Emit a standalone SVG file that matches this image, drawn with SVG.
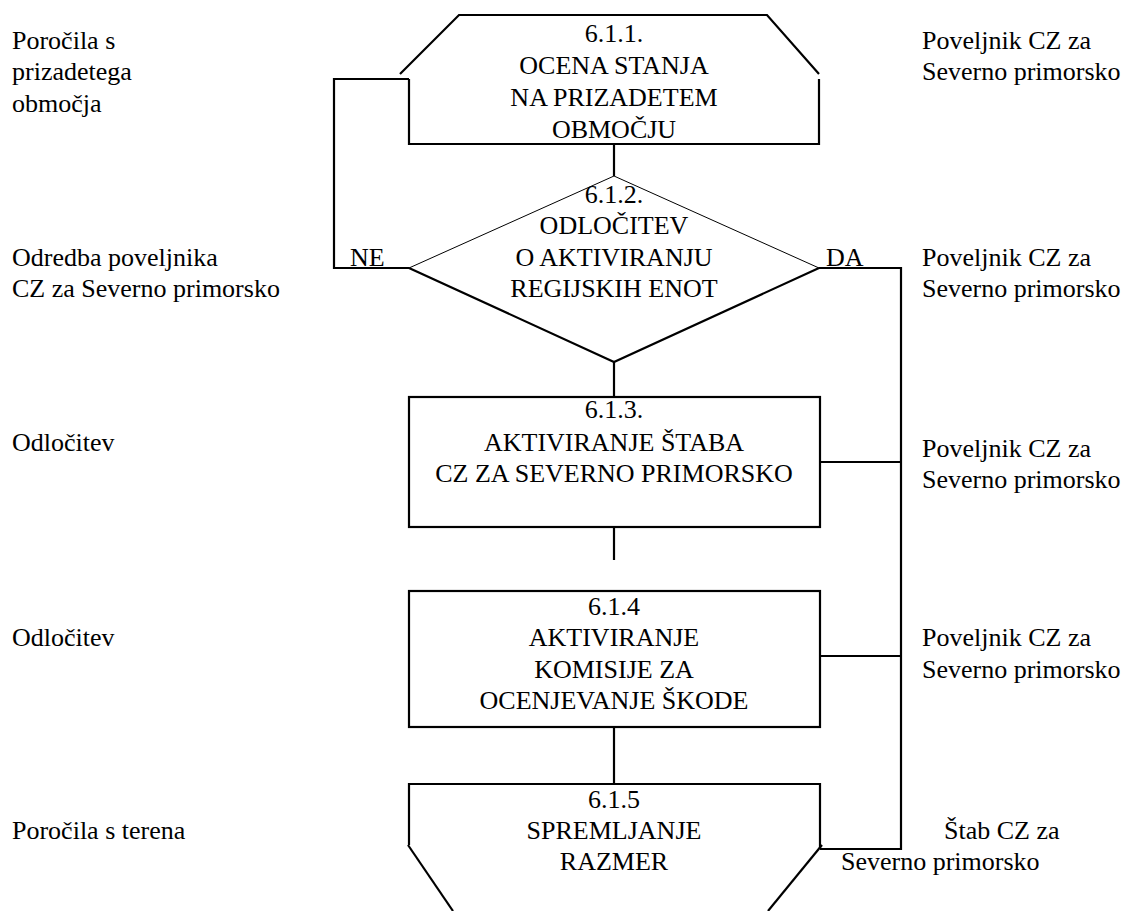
<svg xmlns="http://www.w3.org/2000/svg" width="1129" height="911" viewBox="0 0 1129 911" font-family="Liberation Serif, Times New Roman, serif" font-size="26">
<style>
.c{text-anchor:middle}
.ln{fill:none;stroke:#000;stroke-width:2.2}
.thin{fill:none;stroke:#000;stroke-width:1}
</style>
<rect width="1129" height="911" fill="#fff"/>
<g id="connectors">
<polyline class="ln" points="409,79 334,79 334,268 409,268"/>
<polyline class="ln" points="819,268 901,268 901,849 820,849"/>
<line class="ln" x1="820" y1="462" x2="901" y2="462"/>
<line class="ln" x1="820" y1="656" x2="901" y2="656"/>
<line class="ln" x1="614" y1="144" x2="614" y2="176"/>
<line class="ln" x1="614" y1="362" x2="614" y2="397"/>
<line class="ln" x1="614" y1="527" x2="614" y2="560"/>
<line class="ln" x1="614" y1="727" x2="614" y2="784"/>
<text x="350" y="266">NE</text>
<text x="826" y="266">DA</text>
</g>
<g id="n611">
<polyline class="ln" points="400,74 459,15 767,15 819,74"/>
<polyline class="ln" points="409,79 409,144 819,144 819,79"/>
<text class="c" x="614" y="42">6.1.1.</text>
<text class="c" x="614" y="74">OCENA STANJA</text>
<text class="c" x="614" y="106">NA PRIZADETEM</text>
<text class="c" x="614" y="138">OBMOČJU</text>
</g>
<g id="n612">
<polyline class="thin" points="409,268 614,176 819,268"/>
<polyline class="ln" points="409,268 614,362 819,268"/>
<text class="c" x="614" y="203">6.1.2.</text>
<text class="c" x="614" y="234">ODLOČITEV</text>
<text class="c" x="614" y="266">O AKTIVIRANJU</text>
<text class="c" x="614" y="297">REGIJSKIH ENOT</text>
</g>
<g id="n613">
<rect class="ln" x="409" y="397" width="411" height="130"/>
<text class="c" x="614" y="418">6.1.3.</text>
<text class="c" x="614" y="451">AKTIVIRANJE ŠTABA</text>
<text class="c" x="614" y="482">CZ ZA SEVERNO PRIMORSKO</text>
</g>
<g id="n614">
<rect class="ln" x="409" y="591" width="411" height="136"/>
<text class="c" x="614" y="615">6.1.4</text>
<text class="c" x="614" y="646">AKTIVIRANJE</text>
<text class="c" x="614" y="678">KOMISIJE ZA</text>
<text class="c" x="614" y="709">OCENJEVANJE ŠKODE</text>
</g>
<g id="n615">
<polyline class="ln" points="409,845 409,784 820,784 820,849"/>
<line class="ln" x1="408" y1="845" x2="453" y2="911"/>
<line class="ln" x1="822" y1="845" x2="768" y2="911"/>
<text class="c" x="614" y="808">6.1.5</text>
<text class="c" x="614" y="839">SPREMLJANJE</text>
<text class="c" x="614" y="870">RAZMER</text>
</g>
<g id="labels">
<text x="12" y="49">Poročila s</text>
<text x="12" y="80">prizadetega</text>
<text x="12" y="112">območja</text>
<text x="922" y="49">Poveljnik CZ za</text>
<text x="922" y="80">Severno primorsko</text>
<text x="12" y="266">Odredba poveljnika</text>
<text x="12" y="297">CZ za Severno primorsko</text>
<text x="922" y="266">Poveljnik CZ za</text>
<text x="922" y="297">Severno primorsko</text>
<text x="12" y="451">Odločitev</text>
<text x="922" y="457">Poveljnik CZ za</text>
<text x="922" y="488">Severno primorsko</text>
<text x="12" y="646">Odločitev</text>
<text x="922" y="646">Poveljnik CZ za</text>
<text x="922" y="678">Severno primorsko</text>
<text x="12" y="839">Poročila s terena</text>
<text x="944" y="839">Štab CZ za</text>
<text x="841" y="870">Severno primorsko</text>
</g>
</svg>
